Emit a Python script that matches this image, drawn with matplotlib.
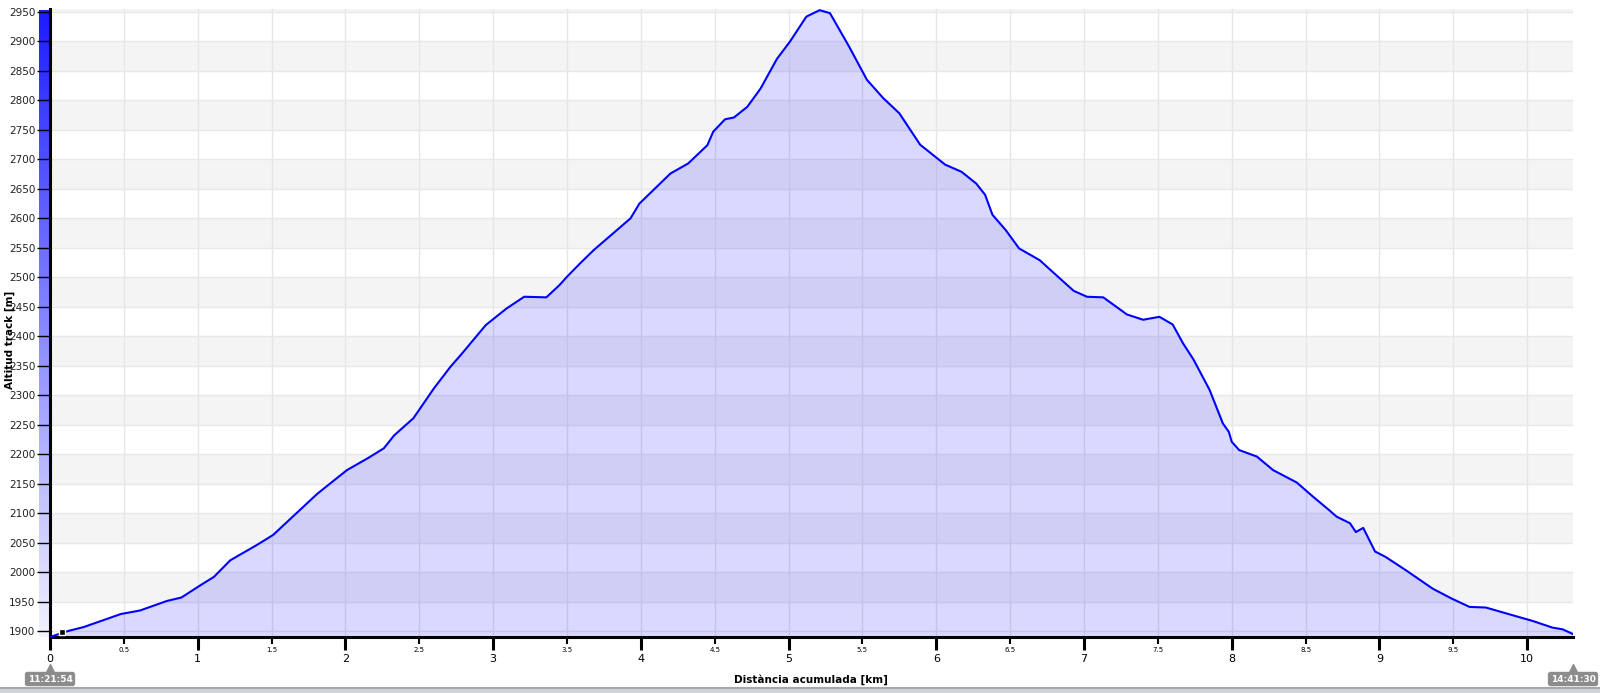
import numpy as np
import matplotlib
matplotlib.use("Agg")
import matplotlib.pyplot as plt
from matplotlib.colors import LinearSegmentedColormap
from matplotlib.patches import Rectangle
from matplotlib.transforms import blended_transform_factory

# perfil d'altitud (km, m) llegit del gràfic
km = [0, 0.06, 0.12, 0.23, 0.48, 0.61, 0.79, 0.89, 1.02, 1.11, 1.22, 1.40, 1.51,
      1.81, 2.01, 2.15, 2.26, 2.33, 2.46, 2.60, 2.71, 2.79, 2.95, 3.09, 3.21, 3.36,
      3.45, 3.50, 3.59, 3.68, 3.93, 3.99, 4.20, 4.32, 4.45, 4.49, 4.57, 4.63, 4.72,
      4.81, 4.92, 5.01, 5.12, 5.21, 5.28, 5.41, 5.53, 5.64, 5.75, 5.89, 6.06, 6.17,
      6.27, 6.33, 6.38, 6.47, 6.56, 6.70, 6.81, 6.93, 7.02, 7.13, 7.29, 7.40, 7.51,
      7.60, 7.67, 7.74, 7.85, 7.94, 7.98, 8.00, 8.05, 8.17, 8.28, 8.44, 8.55, 8.66,
      8.71, 8.80, 8.84, 8.89, 8.97, 9.04, 9.18, 9.36, 9.49, 9.61, 9.72, 9.90, 10.04,
      10.17, 10.24, 10.31]
alt = [1890, 1895, 1900, 1907, 1929, 1935, 1951, 1957, 1978, 1992, 2020, 2046, 2063,
       2133, 2173, 2193, 2210, 2232, 2261, 2312, 2348, 2371, 2419, 2447, 2467, 2466,
       2487, 2501, 2524, 2546, 2600, 2625, 2676, 2693, 2724, 2747, 2768, 2771, 2789,
       2820, 2870, 2900, 2942, 2953, 2948, 2891, 2835, 2804, 2778, 2725, 2691, 2679,
       2659, 2640, 2606, 2580, 2549, 2529, 2504, 2477, 2467, 2466, 2437, 2428, 2433,
       2420, 2388, 2361, 2309, 2252, 2238, 2221, 2207, 2196, 2173, 2152, 2128, 2105,
       2094, 2083, 2068, 2075, 2035, 2026, 2003, 1972, 1955, 1941, 1940, 1927, 1917,
       1906, 1903, 1895]

y_ticks = list(range(1900, 2951, 50))
x_major = list(range(0, 11))
x_minor = [0.5, 1.5, 2.5, 3.5, 4.5, 5.5, 6.5, 7.5, 8.5, 9.5]
start_time = "11:21:54"
end_time = "14:41:30"
marker_km, marker_alt = 0.08, 1899

W, H = 1600, 693
fig = plt.figure(figsize=(16, 6.93), dpi=100)
ax = fig.add_axes([50 / W, 1 - 637 / H, (1573 - 50) / W, (637 - 9) / H])
ax.set_zorder(2)

# barra degradada a l'esquerra de l'eix Y
bar = fig.add_axes([39 / W, 1 - 637 / H, 11 / W, (637 - 10) / H])
bar.set_zorder(1)
cmap = LinearSegmentedColormap.from_list("blau", ["#1c1cff", "#f2f2ff"])
bar.imshow(np.linspace(0, 1, 256).reshape(-1, 1), aspect="auto", cmap=cmap,
           extent=[0, 1, 0, 1], origin="upper")
bar.axis("off")

ax.set_xlim(0, 10.31)
ax.set_ylim(1890, 2955)

# franges grises alternades
for v in range(1950, 2951, 100):
    ax.axhspan(v, v + 50, color="#f4f4f4", lw=0, zorder=0)

ax.set_axisbelow(True)
ax.grid(True, axis="y", color="#e8e8e8", lw=1)
ax.grid(True, axis="x", which="both", color="#e6e6e6", lw=1)

ax.fill_between(km, alt, 1890, color="#0000ff", alpha=0.15, lw=0, zorder=1)
ax.plot(km, alt, color="#0000ff", lw=1.5, zorder=3)
ax.plot(marker_km, marker_alt, "s", ms=5, mfc="black", mec="white", mew=1,
        zorder=4, clip_on=False)

ax.set_yticks(y_ticks)
ax.set_xticks(x_major)
ax.set_xticklabels([str(v) for v in x_major])
ax.set_xticks(x_minor, minor=True)
ax.set_xticklabels([str(v) for v in x_minor], minor=True)

ax.tick_params(axis="x", which="major", length=9.4, width=2.2, color="black",
               labelsize=8, pad=3)
ax.tick_params(axis="x", which="minor", length=5, width=1.5, color="black",
               labelsize=5, pad=2)
ax.tick_params(axis="y", which="major", length=9.4, width=1, color="black",
               labelsize=7.5, pad=1, labelcolor="#222222")

for s in ["top", "right"]:
    ax.spines[s].set_visible(False)
for s in ["left", "bottom"]:
    ax.spines[s].set_linewidth(2.2)
    ax.spines[s].set_color("black")

fig.text(10 / W, 1 - 340 / H, "Altitud track [m]", rotation=90, ha="center",
         va="center", fontweight="bold", fontsize=7.5)
fig.text(811 / W, 1 - 680 / H, "Distància acumulada [km]", ha="center",
         va="center", fontweight="bold", fontsize=7.5)

# etiquetes d'hora a l'inici i al final
trans = blended_transform_factory(ax.transData, fig.transFigure)
for xk, txt in [(0, start_time), (10.31, end_time)]:
    ax.plot([xk], [1 - 668 / H], marker="^", ms=6, color="#8c8c8c", transform=trans,
            clip_on=False, zorder=5)
    ax.text(xk, 1 - 679 / H, txt, transform=trans, ha="center", va="center",
            color="white", fontsize=6.5, fontweight="bold", clip_on=False,
            bbox=dict(boxstyle="round,pad=0.3", fc="#8c8c8c", ec="none"), zorder=5)

fig.patches.append(Rectangle((0, 0), 1, 5 / H, transform=fig.transFigure,
                             fc="#d0d4d8", ec="none"))
fig.lines.append(plt.Line2D([0, 1], [5 / H, 5 / H], transform=fig.transFigure,
                            color="#a4a8ac", lw=1.5))

fig.savefig("out.png", dpi=100)
